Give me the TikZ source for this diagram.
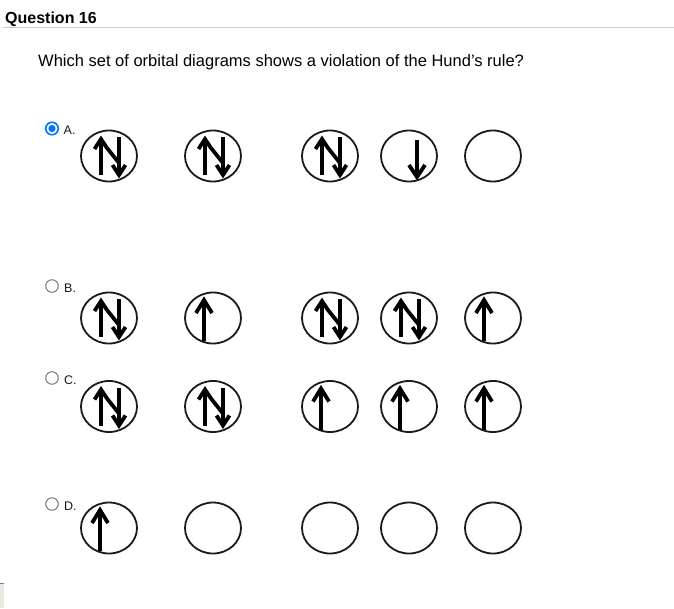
\documentclass[tikz,border=0pt]{standalone}
\usepackage{fontspec}
\setmainfont{Liberation Sans}
\usetikzlibrary{shapes.geometric}
\definecolor{radioblue}{HTML}{0075FF}
\definecolor{radiogray}{HTML}{767676}
\definecolor{rulegray}{HTML}{CCCCCC}
\definecolor{inkc}{HTML}{1A1A1A}
\tikzset{
  orb/.style={draw=inkc, line width=1.8pt, ellipse, minimum width=56pt, minimum height=51pt, inner sep=0pt},
  arr/.style={draw=black, line width=3.8pt, line join=miter, line cap=butt, miter limit=4},
  radio/.style={circle, draw=radiogray, line width=1pt, minimum size=12.5pt, inner sep=0pt},
  lbl/.style={anchor=base west, inner sep=0pt, font=\fontsize{12.5pt}{14pt}\selectfont, text=inkc},
  pics/pair/.style={code={
    \draw[arr] (-8,19) -- (-8,-16);
    \draw[arr] (-14.5,-7) -- (-8,-17) -- (-2,-8) -- (10,7);
    \draw[arr] (10,-19) -- (10,18);
    \draw[arr] (3.5,9) -- (10,19) -- (16.5,9);
  }},
  pics/upone/.style={code={
    \draw[arr] (-9,23) -- (-9,-16);
    \draw[arr] (-17,-5) -- (-9,-18) -- (-1,-5);
  }},
  pics/downone/.style={code={
    \draw[arr] (8,-16) -- (8,20);
    \draw[arr] (0,9) -- (8,21) -- (16,9);
  }}
}
\begin{document}
\begin{tikzpicture}[x=1pt,y=-1pt]
\useasboundingbox[fill=white] (0,0) rectangle (674,608);
% header
\node[anchor=base west, inner sep=0pt, font=\bfseries\fontsize{16pt}{18pt}\selectfont, text=black] (title) at (5,23) {Question 16};
\coordinate (ruleL) at (3,27);
\coordinate (ruleR) at (674,27);
\draw[rulegray, line width=1pt] (ruleL) -- (ruleR);
\node[anchor=base west, inner sep=0pt, font=\fontsize{16.5pt}{18pt}\selectfont, text=black] (question) at (38,66) {Which set of orbital diagrams shows a violation of the Hund’s rule?};
% radios and labels
\node[radio, draw=radioblue, line width=1.6pt] (ra) at (52,128.5) {};
\fill[radioblue] (ra.center) circle (3.6pt);
\node[lbl] (la) at (63.5,134) {A.};
\node[radio] (rb) at (52,286) {};
\node[lbl] (lb) at (64,292) {B.};
\node[radio] (rc) at (52,378) {};
\node[lbl] (lc) at (64,384) {C.};
\node[radio] (rd) at (52,504) {};
\node[lbl] (ld) at (64,510) {D.};
% orbitals row A
\node[orb] (a1) at (109,156) {}; \pic at (a1.center) {pair};
\node[orb] (a2) at (213,156) {}; \pic at (a2.center) {pair};
\node[orb] (a3) at (330,156) {}; \pic at (a3.center) {pair};
\node[orb] (a4) at (409,156) {}; \pic at (a4.center) {downone};
\node[orb] (a5) at (493,156) {};
% row B
\node[orb] (b1) at (109,318) {}; \pic at (b1.center) {pair};
\node[orb] (b2) at (213,318) {}; \pic at (b2.center) {upone};
\node[orb] (b3) at (330,318) {}; \pic at (b3.center) {pair};
\node[orb] (b4) at (409,318) {}; \pic at (b4.center) {pair};
\node[orb] (b5) at (493,318) {}; \pic at (b5.center) {upone};
% row C
\node[orb] (c1) at (109,406.5) {}; \pic at (c1.center) {pair};
\node[orb] (c2) at (213,406.5) {}; \pic at (c2.center) {pair};
\node[orb] (c3) at (330,406.5) {}; \pic at (c3.center) {upone};
\node[orb] (c4) at (409,406.5) {}; \pic at (c4.center) {upone};
\node[orb] (c5) at (493,406.5) {}; \pic at (c5.center) {upone};
% row D
\node[orb] (d1) at (109,528) {}; \pic at (d1.center) {upone};
\node[orb] (d2) at (213,528) {};
\node[orb] (d3) at (330,528) {};
\node[orb] (d4) at (409,528) {};
\node[orb] (d5) at (493,528) {};
% bottom-left edge piece
\fill[fill={rgb,255:red,234;green,234;blue,226}] (0,583) rectangle (4,608);
\draw[gray, line width=1pt] (0,583.5) -- (4,583.5);
\end{tikzpicture}
\end{document}
